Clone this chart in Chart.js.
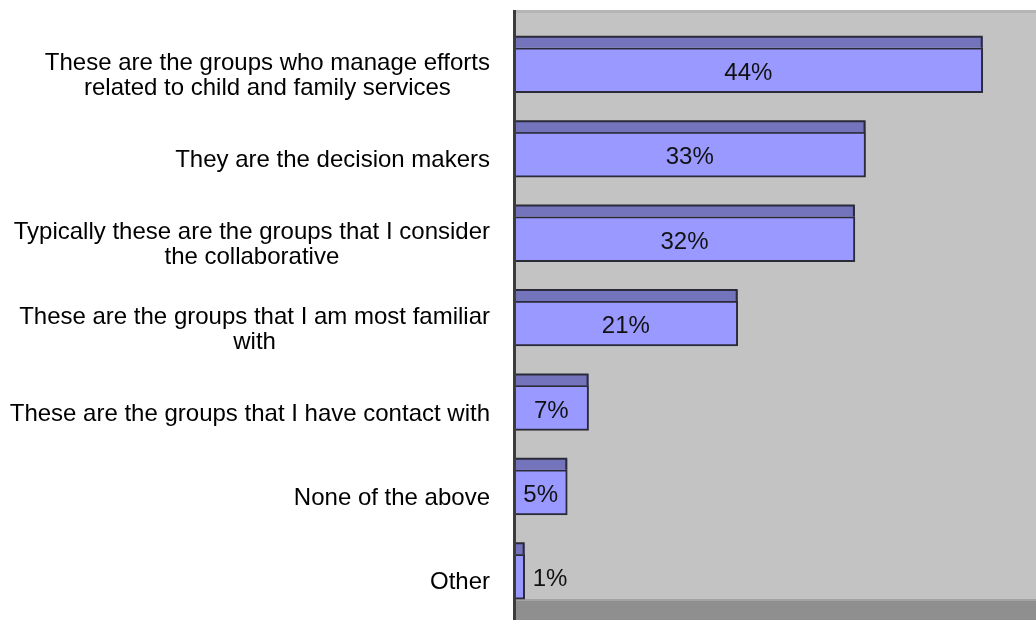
<!DOCTYPE html>
<html>
<head>
<meta charset="utf-8">
<script src="https://cdn.jsdelivr.net/npm/chart.js@4.4.1/dist/chart.umd.min.js"></script>
<style>
  html, body { margin: 0; padding: 0; background: #fff; }
  canvas { display: block; }
</style>
</head>
<body>
<canvas id="reasonsChart" width="1036" height="620"></canvas>
<script>
// answers, top to bottom
const categories = [
  ['These are the groups who manage efforts', 'related to child and family services'],
  'They are the decision makers',
  ['Typically these are the groups that I consider', 'the collaborative'],
  ['These are the groups that I am most familiar', 'with'],
  'These are the groups that I have contact with',
  'None of the above',
  'Other'
];
const shares = [44, 33, 32, 21, 7, 5, 1];
const valueLabels = shares.map(v => v + '%');

const FONT = '24px "Liberation Sans", Arial, sans-serif';

// grey back wall, floor and the left axis line
const backdrop = {
  id: 'backdrop',
  beforeDatasetsDraw(chart) {
    const { ctx, chartArea } = chart;
    const left = chartArea.left;
    ctx.save();
    ctx.fillStyle = '#c3c3c3';
    ctx.fillRect(left, 10, chart.width - left, 590);
    ctx.fillStyle = '#b4b4b4';
    ctx.fillRect(left, 10, chart.width - left, 3);
    ctx.fillStyle = '#8f8f8f';
    ctx.fillRect(left, 600, chart.width - left, 20);
    ctx.fillStyle = '#a3a3a3';
    ctx.fillRect(left, 599, chart.width - left, 2);
    ctx.restore();
  },
  afterDraw(chart) {
    const { ctx, chartArea } = chart;
    ctx.save();
    ctx.fillStyle = '#3c3c3c';
    ctx.fillRect(chartArea.left - 1, 10, 3, chart.height - 10);
    ctx.restore();
  }
};

// darker top face of each bar, plus value and category text
const barDecor = {
  id: 'barDecor',
  afterDatasetsDraw(chart) {
    const { ctx } = chart;
    const meta = chart.getDatasetMeta(0);
    const yScale = chart.scales.y;
    ctx.save();
    meta.data.forEach((bar, i) => {
      const top = bar.y - bar.height / 2;
      const x0 = bar.base;
      const x1 = bar.x;
      // top face
      ctx.fillStyle = '#7474bd';
      ctx.fillRect(x0, top - 11, x1 - x0, 11);
      ctx.strokeStyle = '#2a2a38';
      ctx.lineWidth = 2;
      ctx.beginPath();
      ctx.moveTo(x0, top - 11);
      ctx.lineTo(x1 - 1, top - 11);
      ctx.lineTo(x1 - 1, top);
      ctx.stroke();

      // value text
      ctx.font = FONT;
      ctx.fillStyle = '#111';
      ctx.textBaseline = 'middle';
      const txt = valueLabels[i];
      const w = ctx.measureText(txt).width;
      if (w + 8 < x1 - x0) {
        ctx.textAlign = 'center';
        ctx.fillText(txt, (x0 + x1) / 2, bar.y + 3);
      } else {
        ctx.textAlign = 'left';
        ctx.fillText(txt, x1 + 8, bar.y + 3);
      }

      // category text: block right-aligned, lines centred within it
      const lines = Array.isArray(categories[i]) ? categories[i] : [categories[i]];
      const widest = Math.max(...lines.map(l => ctx.measureText(l).width));
      const cx = 490 - widest / 2;
      const cy = yScale.getPixelForValue(i) + 6;
      const lh = 25;
      ctx.textAlign = 'center';
      ctx.fillStyle = '#000';
      lines.forEach((l, k) => {
        ctx.fillText(l, cx, cy - (lines.length - 1) * lh / 2 + k * lh);
      });
    });
    ctx.restore();
  }
};

new Chart(document.getElementById('reasonsChart').getContext('2d'), {
  type: 'bar',
  data: {
    labels: categories,
    datasets: [{
      data: shares,
      backgroundColor: '#9999ff',
      borderColor: '#2a2a38',
      borderWidth: 2,
      borderSkipped: 'start',
      barThickness: 45
    }]
  },
  options: {
    indexAxis: 'y',
    responsive: false,
    animation: false,
    layout: { padding: { left: 514, top: 28, right: 0, bottom: 1 } },
    plugins: {
      legend: { display: false },
      tooltip: { enabled: false }
    },
    scales: {
      x: { display: false, min: 0, max: 49 },
      y: { display: false, grid: { display: false } }
    }
  },
  plugins: [backdrop, barDecor]
});
</script>
</body>
</html>
